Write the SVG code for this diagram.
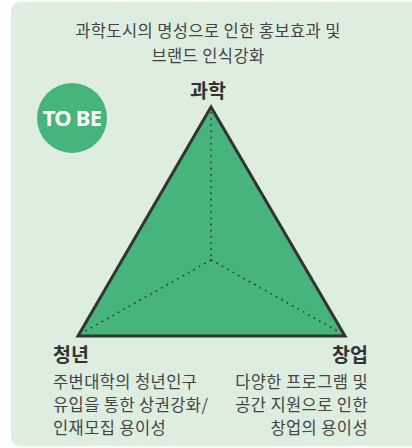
<svg xmlns="http://www.w3.org/2000/svg" width="412" height="448" viewBox="0 0 412 448">
<style>
text{font-family:"Noto Sans CJK KR","Noto Sans",sans-serif;fill:#444}
.t{font-size:16.5px;letter-spacing:0.4px}
.h{font-size:19.5px;font-weight:bold;fill:#333}
.dot{stroke:#333;stroke-width:1.6;stroke-dasharray:1.6 4.6;fill:none}
</style>
<rect x="11" y="2" width="410" height="444" rx="9" fill="#ddeee1"/>
<g id="top-desc">
<text class="t" x="208" y="37" text-anchor="middle">과학도시의 명성으로 인한 홍보효과 및</text>
<text class="t" x="208" y="62" text-anchor="middle">브랜드 인식강화</text>
</g>
<g id="tobe">
<circle cx="72" cy="118" r="35" fill="#47b47b"/>
<text x="72" y="126" text-anchor="middle" style="font-family:'Noto Sans',sans-serif;font-size:22px;font-weight:bold;fill:#fff;letter-spacing:-0.8px">TO BE</text>
</g>
<g id="triangle">
<polygon points="211,107 78,336 345,336" fill="#47b47b" stroke="#333" stroke-width="3" stroke-linejoin="miter"/>
</g>
<g id="connectors">
<line class="dot" x1="211" y1="112" x2="211" y2="260"/>
<line class="dot" x1="211" y1="260" x2="82" y2="333"/>
<line class="dot" x1="211" y1="260" x2="341" y2="333"/>
</g>
<g id="science"><text class="h" x="208" y="98" text-anchor="middle">과학</text></g>
<g id="youth">
<text class="h" x="53" y="362">청년</text>
<text class="t" x="53" y="388">주변대학의 청년인구</text>
<text class="t" x="53" y="411">유입을 통한 상권강화/</text>
<text class="t" x="53" y="434">인재모집 용이성</text>
</g>
<g id="startup">
<text class="h" x="368" y="362" text-anchor="end">창업</text>
<text class="t" x="368" y="388" text-anchor="end">다양한 프로그램 및</text>
<text class="t" x="368" y="411" text-anchor="end">공간 지원으로 인한</text>
<text class="t" x="368" y="434" text-anchor="end">창업의 용이성</text>
</g>
</svg>
